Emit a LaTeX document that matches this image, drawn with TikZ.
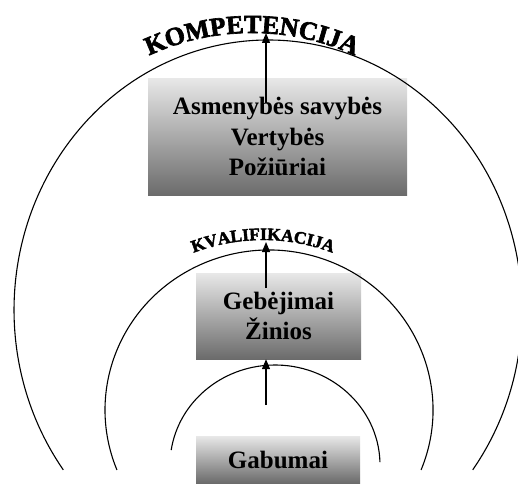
\documentclass[tikz,border=0pt]{standalone}
\usepackage{fontspec}
\setmainfont{Liberation Serif}
\newfontfamily\archfont{Liberation Serif}[BoldFeatures={FakeBold=2.5}]
\usetikzlibrary{arrows.meta,decorations.text}

\tikzset{
    box/.style={top color=black!9, bottom color=black!58, inner sep=0pt,
        font=\fontsize{25}{30.5}\selectfont\bfseries, align=center},
    ring/.style={black, line width=1.1pt},
    up/.style={black, line width=1.2pt, -{Triangle[length=10pt,width=8pt]}}
}

\begin{document}
\begin{tikzpicture}[x=1pt, y=1pt]
    \useasboundingbox (0,0) rectangle (518,483);

    % boxes
    \node[box, minimum width=259pt, minimum height=117pt] (asmen) at (277.5,346.5) {Asmenybės savybės\\Vertybės\\Požiūriai};
    \node[box, minimum width=165pt, minimum height=86pt] (gebej) at (278.5,167) {Gebėjimai\\Žinios};
    \node[box, minimum width=164pt, minimum height=47pt] (gabum) at (278,23.5) {Gabumai};

    % rings
    \coordinate (outerC) at (268,173);
    \coordinate (midC) at (269,73);
    \coordinate (innerC) at (275,18);
    \draw[ring] (outerC) ++(-36.3:254pt and 270pt) arc[start angle=-36.3, end angle=216.3, x radius=254pt, y radius=270pt];
    \draw[ring] (midC) ++(-22:164pt and 160pt) arc[start angle=-22, end angle=202, x radius=164pt, y radius=160pt];
    \draw[ring] (innerC) ++(1.7:105pt and 100pt) arc[start angle=1.7, end angle=171.4, x radius=105pt, y radius=100pt];

    % arched titles
    \path[decorate, decoration={text along path, text align=center,
        text={|\archfont\fontsize{26}{26}\selectfont\bfseries|KOMPETENCIJA}}]
        (252,205) ++(133:245pt) arc[start angle=133, end angle=47, radius=245pt];
    \path[decorate, decoration={text along path, text align=center,
        text={|\archfont\fontsize{17.5}{17.5}\selectfont\bfseries|KVALIFIKACIJA}}]
        (263,48) ++(125:195pt) arc[start angle=125, end angle=55, radius=195pt];

    % arrows
    \coordinate (asmenIn) at (266,380);
    \coordinate (kompTop) at (266,450);
    \coordinate (gebejIn) at (266,195);
    \coordinate (kvalTop) at (266,241);
    \coordinate (gabumUp) at (266,78);
    \draw[up] (asmenIn) -- (kompTop);
    \draw[up] (gebejIn) -- (kvalTop);
    \draw[up] (gabumUp) -- (gebej.south -| gabumUp);
\end{tikzpicture}
\end{document}
